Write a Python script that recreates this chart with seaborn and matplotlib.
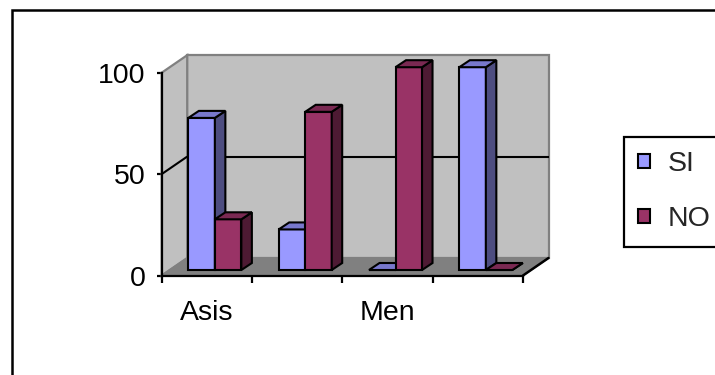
import matplotlib
matplotlib.use("Agg")
import matplotlib.pyplot as plt
from matplotlib.patches import Polygon, Rectangle, Patch
import numpy as np
import pandas as pd
import seaborn as sns

# ---- data -------------------------------------------------------------
categories = ["Asis", "", "Men", ""]
series = ["SI", "NO"]
si_values = [75, 20, 0, 100]
no_values = [25, 78, 100, 0]
y_ticks = [0, 50, 100]

# ---- colours (classic office palette) ---------------------------------
front_colors = {"SI": "#9999FF", "NO": "#993366"}
side_colors = {"SI": "#4D4D80", "NO": "#4D1A33"}
top_colors = {"SI": "#7878CC", "NO": "#7A2952"}
wall_color = "#C0C0C0"
floor_color = "#808080"
edge_gray = "#808080"

W, H = 715, 375
FS = 20.5

sns.set_theme(style="ticks")
plt.rcParams["font.family"] = ["Liberation Sans", "DejaVu Sans"]

fig = plt.figure(figsize=(W / 100, H / 100), dpi=100)

# the axes rectangle is the front plane of the 3-D box (pixel geometry)
left_px, right_px, top_px, bottom_px = 161.7, 523.0, 72.7, 275.5
ax = fig.add_axes([left_px / W, 1 - bottom_px / H,
                   (right_px - left_px) / W, (bottom_px - top_px) / H])

rows = []
for i in range(len(categories)):
    rows.append({"pos": i, "series": "SI", "value": si_values[i]})
    rows.append({"pos": i, "series": "NO", "value": no_values[i]})
df = pd.DataFrame(rows)

sns.barplot(data=df, x="pos", y="value", hue="series", hue_order=series,
            palette=front_colors, saturation=1, width=0.587, gap=0, errorbar=None,
            edgecolor="black", linewidth=1.5, ax=ax, legend=False)

lo, hi = -0.5, len(categories) - 0.5
ax.set_xlim(lo, hi)
ax.set_ylim(0, 100)

# pixel -> data conversion for depth offsets
px_x = (right_px - left_px) / (hi - lo)
px_y = (bottom_px - top_px) / 100.0


def depth(dx_px, dy_px):
    """Screen offset in pixels (dy downward) expressed in data units."""
    return dx_px / px_x, -dy_px / px_y


Fx, Fy = depth(8.0, -5.5)     # bar front plane
Bx, By = depth(10.5, -7.0)    # bar thickness
Dx, Dy = depth(25.5, -17.5)   # back wall

# walls and floor
back_wall = Polygon([(lo + Dx, Dy), (hi + Dx, Dy), (hi + Dx, 100 + Dy), (lo + Dx, 100 + Dy)],
                    closed=True, fc=wall_color, ec=edge_gray, lw=1.6, zorder=0.5, clip_on=False)
side_wall = Polygon([(lo, 0), (lo + Dx, Dy), (lo + Dx, 100 + Dy), (lo, 100)],
                    closed=True, fc=wall_color, ec=edge_gray, lw=1.6, zorder=0.6, clip_on=False)
floor = Polygon([(lo, 0), (hi, 0), (hi + Dx, Dy), (lo + Dx, Dy)],
                closed=True, fc=floor_color, ec=edge_gray, lw=1.2, zorder=0.7, clip_on=False)
for p in (back_wall, side_wall, floor):
    ax.add_patch(p)

# gridlines at the inner tick values, on both walls
for v in y_ticks[1:-1]:
    ax.plot([lo + Dx, hi + Dx], [v + Dy, v + Dy], color="black", lw=1.5,
            zorder=0.9, clip_on=False, solid_capstyle="butt")
    ax.plot([lo, lo + Dx], [v, v + Dy], color="black", lw=1.5,
            zorder=0.9, clip_on=False, solid_capstyle="butt")
# front-right edge of the floor
ax.plot([hi, hi + Dx], [0, Dy], color="black", lw=1.8, zorder=0.95,
        clip_on=False, solid_capstyle="round")

# extrude the bars: front face, right side and top
bars = []
for name, container in zip(series, ax.containers):
    for rect in container:
        bars.append((rect.get_x(), name, rect))
bars.sort(key=lambda b: b[0])
for k, (_, name, rect) in enumerate(bars):
    x, w, h = rect.get_x(), rect.get_width(), rect.get_height()
    z = 3 + k * 0.01
    rect.set_x(x + Fx)
    rect.set_y(Fy)
    rect.set_zorder(z)
    rect.set_clip_on(False)
    xf = x + Fx
    side = Polygon([(xf + w, Fy), (xf + w + Bx, Fy + By),
                    (xf + w + Bx, Fy + h + By), (xf + w, Fy + h)],
                   closed=True, fc=side_colors[name], ec="black", lw=1.5,
                   zorder=z + 0.001, clip_on=False, joinstyle="miter")
    top = Polygon([(xf, Fy + h), (xf + Bx, Fy + h + By),
                   (xf + w + Bx, Fy + h + By), (xf + w, Fy + h)],
                  closed=True, fc=top_colors[name], ec="black", lw=1.5,
                  zorder=z + 0.002, clip_on=False, joinstyle="miter")
    ax.add_patch(side)
    ax.add_patch(top)

# axes, ticks and labels
sns.despine(ax=ax, top=True, right=True)
for s in ("left", "bottom"):
    ax.spines[s].set_linewidth(1.6)
    ax.spines[s].set_color("black")
    ax.spines[s].set_zorder(2.5)

ax.set_yticks(y_ticks)
ax.set_yticklabels([str(v) for v in y_ticks])
ax.tick_params(axis="y", length=3.6, width=1.6, pad=8.0, labelsize=FS,
               colors="black", left=True)

ax.set_xticks(np.arange(lo, hi + 1))
ax.set_xticklabels([])
ax.set_xticks(np.arange(len(categories)), minor=True)
ax.set_xticklabels(categories, minor=True)
ax.tick_params(axis="x", which="major", length=5, width=1.6, bottom=True, colors="black")
ax.tick_params(axis="x", which="minor", length=0, pad=18, labelsize=FS, colors="black")
ax.set_xlabel("")
ax.set_ylabel("")
ax.set_facecolor("white")

# legend
handles = [Patch(facecolor=front_colors[s], edgecolor="black", linewidth=1.5, label=s)
           for s in series]
leg = ax.legend(handles=handles, loc="upper left",
                bbox_to_anchor=(624 / W, 1 - 137 / H), bbox_transform=fig.transFigure,
                borderaxespad=0, borderpad=0.5, handlelength=0.42, handleheight=0.42,
                handletextpad=0.62, labelspacing=1.02, fontsize=FS, frameon=True,
                fancybox=False, framealpha=1, edgecolor="black")
leg.get_frame().set_linewidth(1.6)

# outer chart border
fig.add_artist(Rectangle((12 / W, -0.5), 1.5, (1 - 9.5 / H) + 0.5,
                         transform=fig.transFigure, fill=False,
                         ec="black", lw=1.8))

fig.savefig("out.png", dpi=100)
